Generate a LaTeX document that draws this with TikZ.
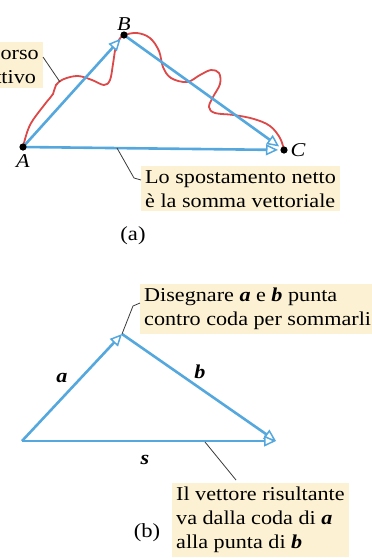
\documentclass[tikz,border=0pt]{standalone}
\usepackage{fontspec}
\setmainfont{Liberation Serif}[FakeStretch=1.13]
\usetikzlibrary{arrows.meta, positioning, calc}
\definecolor{VecBlue}{HTML}{55A8DE}
\definecolor{PathRed}{HTML}{DD4848}
\definecolor{NoteFill}{HTML}{FCF1D2}
\definecolor{LeadGray}{HTML}{3A3A3A}

\tikzset{
  vec/.style={line width=2.6pt, VecBlue, -{Triangle[length=12pt, width=11pt, fill=white, line width=1.5pt]}},
  note/.style={fill=NoteFill, inner sep=4pt, align=left, font=\fontsize{19.6}{24}\selectfont},
  leader/.style={LeadGray, line width=0.8pt},
  pt/.style={font=\fontsize{19.6}{24}\selectfont\itshape},
  vname/.style={font=\fontsize{19.6}{24}\selectfont\bfseries\itshape},
  partlabel/.style={font=\fontsize{20}{24}\selectfont}
}

\begin{document}
\begin{tikzpicture}[x=1pt, y=-1pt]
  \useasboundingbox (0,0) rectangle (372,558);
  \clip (0,0) rectangle (372,558);

  % (a) the path and the displacement
  \coordinate (A) at (23,147);
  \coordinate (B) at (124,35);
  \coordinate (C) at (284,150);

  \draw[PathRed, line width=1.8pt] plot[smooth, tension=0.6] coordinates {
    (A) (30,125) (45,104) (53,94) (56,85) (64,79) (78,76) (92,80) (104,85)
    (110,80) (113,64) (116,46) (121,37) (B) (137,33) (150,38) (159,51)
    (163,67) (171,78) (187,82) (200,75) (211,70) (219,73) (220,84) (213,97)
    (209,107) (215,113) (234,115) (254,119) (270,126) (280,138) (C)};

  \draw[vec, shorten >=5pt] (A) -- (B);
  \draw[vec, shorten >=6pt] (B) -- (C);
  \draw[vec, shorten >=6pt] (A) -- (C);

  \foreach \p in {A,B,C} \fill (\p) circle (3.6pt);

  \node[pt, below=4pt of A] (labA) {A};
  \node[pt, above=1pt of B] (labB) {B};
  \node[pt, right=3pt of C] (labC) {C};

  \node[note, anchor=east] (percorso) at (43,65) {Percorso\\effettivo};
  \coordinate (pk) at (60,82);
  \draw[leader] (pk) -- (percorso.east |- 0,57);

  \node[note, anchor=north west] (netto) at (141,166) {Lo spostamento netto\\è la somma vettoriale};
  \coordinate (nk) at (117,148);
  \draw[leader] (nk) -- (134,178) -- (netto.west |- 0,180);

  \node[partlabel] (capa) at (133,236) {(a)};

  % (b) head to tail
  \coordinate (T) at (22,441);
  \coordinate (P) at (122,334);
  \coordinate (H) at (276,441);

  \draw[vec] (T) -- (P);
  \draw[vec] (P) -- (H);
  \draw[vec] (T) -- (H);

  \node[vname] (la) at (62,378) {a};
  \node[vname] (lb) at (200,372) {b};
  \node[vname] (ls) at (145,460) {s};

  \node[note, anchor=north west] (disegna) at (140,284) {Disegnare \textbf{\textit{a}} e \textbf{\textit{b}} punta\\contro coda per sommarli};
  \draw[leader] (P) -- (133,306) -- (disegna.west |- 0,303);

  \node[note, anchor=north west] (risult) at (172,483) {Il vettore risultante\\va dalla coda di \textbf{\textit{a}}\\alla punta di \textbf{\textit{b}}};
  \coordinate (sk) at (205,442);
  \draw[leader] (sk) -- (236,480);

  \node[partlabel] (capb) at (147,533) {(b)};
\end{tikzpicture}
\end{document}
